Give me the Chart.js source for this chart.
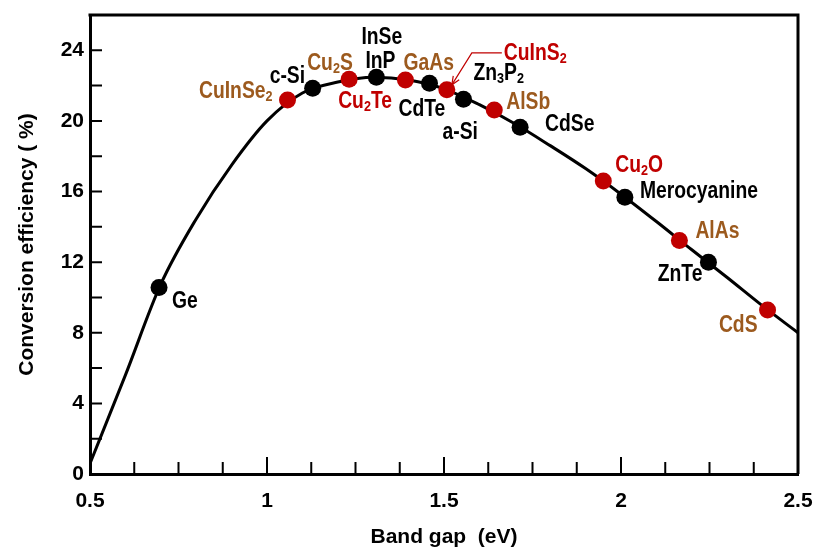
<!DOCTYPE html>
<html>
<head>
<meta charset="utf-8">
<script src="https://cdn.jsdelivr.net/npm/chart.js@4/dist/chart.umd.min.js"></script>
<style>
  html, body { margin: 0; padding: 0; background: #fff; }
  #wrap { width: 813px; height: 548px; }
</style>
</head>
<body>
<div id="wrap"><canvas id="chart" width="813" height="548"></canvas></div>
<script>
// Theoretical efficiency curve (band gap eV -> efficiency %)
const curveGap = [0.5, 0.6, 0.7, 0.8, 0.9, 1.0, 1.1, 1.2, 1.3, 1.4, 1.5, 1.6, 1.7, 1.8, 1.9, 2.0, 2.1, 2.2, 2.3, 2.4, 2.5];
const curveEff = [0.6, 5.6, 10.75, 14.45, 17.5, 20.0, 21.58, 22.2, 22.48, 22.32, 21.82, 20.92, 19.84, 18.6, 17.3, 15.85, 14.3, 12.7, 11.13, 9.52, 8.0];

// Materials drawn with black dots
const blackNames = ['Ge', 'c-Si', 'InP', 'CdTe', 'a-Si', 'CdSe', 'Merocyanine', 'ZnTe'];
const blackGap = [0.695, 1.129, 1.309, 1.459, 1.555, 1.715, 2.011, 2.247];
const blackEff = [10.57, 21.85, 22.48, 22.14, 21.23, 19.64, 15.68, 11.99];

// Materials drawn with red dots
const redNames = ['CuInSe2', 'Cu2S', 'GaAs', 'CuInS2', 'AlSb', 'Cu2O', 'AlAs', 'CdS'];
const redGap = [1.058, 1.232, 1.391, 1.508, 1.642, 1.95, 2.165, 2.414];
const redEff = [21.19, 22.36, 22.32, 21.76, 20.62, 16.6, 13.23, 9.29];

// Axis ticks
const xTicks = [0.5, 1, 1.5, 2, 2.5];
const yTicks = [0, 4, 8, 12, 16, 20, 24];

const BROWN = '#9c5a1e';
const RED = '#c00000';

// label layout: text (with _n subscripts), dot it belongs to, pixel offset, alignment, colour
const labels = [
  ['Ge', 'Ge', 13, 13, 'left', '#000'],
  ['CuInSe_2', 'CuInSe2', -15, -10, 'right', BROWN],
  ['c-Si', 'c-Si', -43, -13, 'left', '#000'],
  ['Cu_2S', 'Cu2S', -42, -17, 'left', BROWN],
  ['Cu_2Te', 'Cu2S', -11, 21, 'left', RED],
  ['InSe', 'InP', -15, -41, 'left', '#000'],
  ['InP', 'InP', -11, -17, 'left', '#000'],
  ['GaAs', 'GaAs', -2, -18, 'left', BROWN],
  ['CdTe', 'CdTe', -31, 25, 'left', '#000'],
  ['CuInS_2', 'CuInS2', 57, -38, 'left', RED],
  ['Zn_3P_2', 'a-Si', 10, -27, 'left', '#000'],
  ['a-Si', 'a-Si', -21, 32, 'left', '#000'],
  ['AlSb', 'AlSb', 12, -9, 'left', BROWN],
  ['CdSe', 'CdSe', 25, -4, 'left', '#000'],
  ['Cu_2O', 'Cu2O', 12, -17, 'left', RED],
  ['Merocyanine', 'Merocyanine', 15, -7, 'left', '#000'],
  ['AlAs', 'AlAs', 16, -10, 'left', BROWN],
  ['ZnTe', 'ZnTe', -6, 11, 'right', '#000'],
  ['CdS', 'CdS', -10, 14, 'right', BROWN]
];

const FONT = '"Liberation Sans", Arial, sans-serif';

function toXY(xs, ys) {
  return xs.map((v, i) => ({ x: v, y: ys[i] }));
}

function findPoint(name) {
  let i = blackNames.indexOf(name);
  if (i >= 0) return { x: blackGap[i], y: blackEff[i] };
  i = redNames.indexOf(name);
  return { x: redGap[i], y: redEff[i] };
}

// draws text like Cu_2S with subscripts, narrowed like the original font
function drawRich(ctx, text, x, y, align, color) {
  const parts = text.split(/(_\d)/).filter(Boolean);
  const big = 'bold 23px ' + FONT;
  const small = 'bold 15px ' + FONT;
  const sx = 0.84;
  let w = 0;
  parts.forEach(p => {
    ctx.font = p[0] === '_' ? small : big;
    w += ctx.measureText(p[0] === '_' ? p.slice(1) : p).width;
  });
  let cx = align === 'right' ? -w : align === 'center' ? -w / 2 : 0;
  ctx.save();
  ctx.translate(x, y + 8);
  ctx.scale(sx, 1);
  ctx.fillStyle = color;
  ctx.textAlign = 'left';
  ctx.textBaseline = 'alphabetic';
  parts.forEach(p => {
    if (p[0] === '_') {
      ctx.font = small;
      ctx.fillText(p.slice(1), cx, 3);
      cx += ctx.measureText(p.slice(1)).width;
    } else {
      ctx.font = big;
      ctx.fillText(p, cx, 0);
      cx += ctx.measureText(p).width;
    }
  });
  ctx.restore();
}

const decor = {
  id: 'decor',
  afterDatasetsDraw(chart) {
    const { ctx, chartArea: a, scales: { x, y } } = chart;
    ctx.save();
    // frame top and right
    ctx.strokeStyle = '#000';
    ctx.lineWidth = 3;
    ctx.beginPath();
    ctx.moveTo(a.left - 1.5, a.top);
    ctx.lineTo(a.right, a.top);
    ctx.lineTo(a.right, a.bottom);
    ctx.stroke();

    // inward ticks
    ctx.lineWidth = 2;
    ctx.beginPath();
    for (let i = 1; i < 16; i++) {
      const px = x.getPixelForValue(0.5 + i * 0.125);
      const len = i % 4 === 0 ? 17 : 12;
      ctx.moveTo(px, a.bottom);
      ctx.lineTo(px, a.bottom - len);
    }
    for (let i = 1; i <= 12; i++) {
      const py = y.getPixelForValue(i * 2);
      ctx.moveTo(a.left, py);
      ctx.lineTo(a.left + 12, py);
    }
    ctx.stroke();

    // material labels
    labels.forEach(([text, name, dx, dy, align, color]) => {
      const p = findPoint(name);
      drawRich(ctx, text, x.getPixelForValue(p.x) + dx, y.getPixelForValue(p.y) + dy, align, color);
    });

    // arrow to CuInS2
    const c = findPoint('CuInS2');
    const px = x.getPixelForValue(c.x), py = y.getPixelForValue(c.y);
    ctx.strokeStyle = RED;
    ctx.lineWidth = 1.2;
    ctx.beginPath();
    ctx.moveTo(px + 55, py - 37);
    ctx.lineTo(px + 25, py - 37);
    ctx.lineTo(px + 5, py - 5);
    ctx.stroke();
    const ang = Math.atan2(32, -20);
    ctx.beginPath();
    ctx.moveTo(px + 5 - 9 * Math.cos(ang - 0.4), py - 5 - 9 * Math.sin(ang - 0.4));
    ctx.lineTo(px + 5, py - 5);
    ctx.lineTo(px + 5 - 9 * Math.cos(ang + 0.4), py - 5 - 9 * Math.sin(ang + 0.4));
    ctx.stroke();
    ctx.restore();
  }
};

new Chart(document.getElementById('chart'), {
  type: 'scatter',
  data: {
    datasets: [
      {
        type: 'line',
        label: 'curve',
        data: toXY(curveGap, curveEff),
        borderColor: '#000',
        borderWidth: 3,
        pointRadius: 0,
        cubicInterpolationMode: 'monotone',
        fill: false,
        order: 3
      },
      {
        label: 'black',
        data: toXY(blackGap, blackEff),
        backgroundColor: '#000',
        borderWidth: 0,
        pointRadius: 8.5,
        order: 1
      },
      {
        label: 'red',
        data: toXY(redGap, redEff),
        backgroundColor: RED,
        borderWidth: 0,
        pointRadius: 8.5,
        order: 2
      }
    ]
  },
  options: {
    responsive: false,
    animation: false,
    events: [],
    layout: { padding: { top: 15, right: 15, left: 0, bottom: 0 } },
    plugins: { legend: { display: false }, tooltip: { enabled: false } },
    scales: {
      x: {
        type: 'linear',
        min: 0.5,
        max: 2.5,
        afterFit: s => { s.height = 74; s.paddingLeft = 0; s.paddingRight = 0; },
        afterBuildTicks: s => { s.ticks = xTicks.map(v => ({ value: v })); },
        ticks: {
          color: '#000',
          font: { family: FONT, size: 21, weight: 'bold' },
          padding: 15,
          maxRotation: 0,
          callback: v => String(v)
        },
        grid: { display: false, drawTicks: false },
        border: { display: true, color: '#000', width: 3 },
        title: {
          display: true,
          text: 'Band gap  (eV)',
          color: '#000',
          font: { family: FONT, size: 21, weight: 'bold', lineHeight: 1.05 },
          padding: { top: 0, bottom: 0 }
        }
      },
      y: {
        type: 'linear',
        min: 0,
        max: 26,
        afterFit: s => { s.width = 90; s.paddingTop = 0; s.paddingBottom = 0; },
        afterBuildTicks: s => { s.ticks = yTicks.map(v => ({ value: v })); },
        ticks: {
          color: '#000',
          font: { family: FONT, size: 21, weight: 'bold' },
          padding: 6,
          callback: v => String(v)
        },
        grid: { display: false, drawTicks: false },
        border: { display: true, color: '#000', width: 3 },
        title: {
          display: true,
          text: 'Conversion efficiency ( %)',
          color: '#000',
          font: { family: FONT, size: 21, weight: 'bold', lineHeight: 1.2 },
          padding: { top: 15, bottom: 0 }
        }
      }
    }
  },
  plugins: [decor]
});
</script>
</body>
</html>
